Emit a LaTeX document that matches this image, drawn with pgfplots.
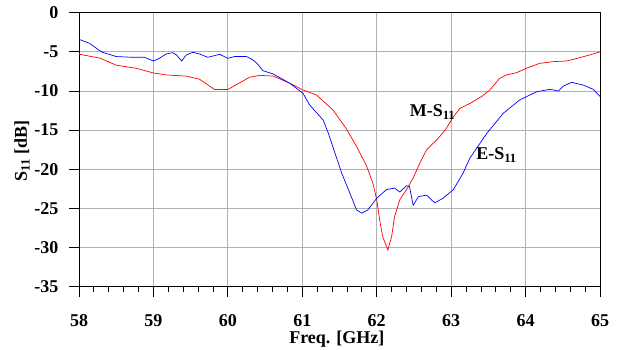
\documentclass[border=0pt]{standalone}
\usepackage{fontspec}
\setmainfont{Liberation Serif}
\usepackage{pgfplots}
\pgfplotsset{compat=1.18}
\begin{document}
\begin{tikzpicture}
\begin{axis}[
  at={(79pt,62.3pt)}, anchor=south west,
  scale only axis, width=521pt, height=274pt,
  xmin=58, xmax=65, ymin=-35, ymax=0,
  xtick={58,59,...,65}, ytick={-35,-30,...,0},
  minor x tick num=4,
  grid=major, major grid style={gray!60, line width=0.8pt},
  axis line style={black, line width=0.9pt},
  tick style={black, line width=0.8pt},
  tick align=outside, xtick pos=bottom, ytick pos=left,
  major tick length=10pt, minor tick length=5pt,
  /pgf/number format/assume math mode=true,
  ticklabel style={font=\fontsize{18}{21}\selectfont\bfseries},
  xticklabel style={anchor=center, yshift=-24pt},
  yticklabel style={anchor=east, xshift=-7pt},
  label style={font=\fontsize{18}{21}\selectfont\bfseries},
  xlabel={Freq. [GHz]}, ylabel={S\textsubscript{11} [dB]},
  xlabel style={at={(axis description cs:0.495,0)}, anchor=center, yshift=-52pt},
  ylabel style={at={(axis description cs:0,0.495)}, anchor=center, rotate=0, xshift=0pt, yshift=57pt},
]
\addplot[red, line width=0.7pt] coordinates {
(58.0,-5.3) (58.28,-5.8) (58.50,-6.7) (58.77,-7.1) (59.0,-7.7) (59.17,-7.95) (59.44,-8.1)
(59.62,-8.5) (59.82,-9.8) (60.0,-9.8) (60.16,-8.95) (60.29,-8.25) (60.43,-8.0) (60.61,-8.1)
(60.83,-9.0) (61.01,-9.87) (61.19,-10.5) (61.41,-12.4) (61.59,-14.8) (61.73,-17.1)
(61.86,-19.5) (61.95,-21.8) (62.0,-23.9) (62.04,-26.5) (62.08,-28.6) (62.15,-30.3)
(62.20,-28.6) (62.24,-26.05) (62.31,-23.9) (62.40,-22.6) (62.49,-21.1) (62.58,-19.2)
(62.67,-17.5) (62.80,-16.3) (62.92,-15.0) (63.03,-13.3) (63.12,-12.2) (63.25,-11.6)
(63.41,-10.7) (63.52,-9.87) (63.65,-8.4) (63.74,-7.96) (63.88,-7.66) (64.01,-7.1)
(64.19,-6.47) (64.37,-6.25) (64.55,-6.17) (64.69,-5.83) (64.86,-5.4) (65.0,-5.0)
};
\addplot[blue, line width=0.7pt] coordinates {
(58.0,-3.4) (58.14,-3.9) (58.30,-5.0) (58.50,-5.6) (58.73,-5.7) (58.88,-5.7) (59.0,-6.17)
(59.08,-5.83) (59.17,-5.27) (59.26,-5.1) (59.31,-5.4) (59.38,-6.17) (59.44,-5.4)
(59.53,-5.06) (59.62,-5.27) (59.73,-5.7) (59.80,-5.53) (59.89,-5.32) (60.0,-5.83)
(60.09,-5.6) (60.25,-5.6) (60.34,-6.04) (60.41,-6.68) (60.47,-7.4) (60.61,-7.83)
(60.83,-9.0) (61.01,-10.3) (61.10,-11.8) (61.28,-13.7) (61.35,-15.4) (61.44,-17.96)
(61.53,-20.5) (61.62,-22.6) (61.73,-25.2) (61.80,-25.6) (61.88,-25.2) (62.0,-23.7)
(62.13,-22.6) (62.24,-22.4) (62.31,-22.9) (62.40,-22.1) (62.44,-22.2)
(62.49,-24.6) (62.56,-23.5) (62.67,-23.3) (62.78,-24.3) (62.89,-23.7)
(63.03,-22.6) (63.16,-20.5) (63.25,-18.6) (63.48,-15.4) (63.70,-12.85) (63.92,-11.15)
(64.15,-10.09) (64.33,-9.79) (64.44,-10.0) (64.51,-9.36) (64.62,-8.9) (64.77,-9.23)
(64.91,-9.79) (65.0,-10.7)
};
\node[font=\fontsize{18}{21}\selectfont\bfseries] at (axis cs:62.75,-12.7) {M-S\textsubscript{11}};
\node[font=\fontsize{18}{21}\selectfont\bfseries] at (axis cs:63.61,-18.2) {E-S\textsubscript{11}};
\end{axis}
\pgfresetboundingbox
\path[use as bounding box] (0,0) rectangle (617pt,349pt);
\end{tikzpicture}
\end{document}
